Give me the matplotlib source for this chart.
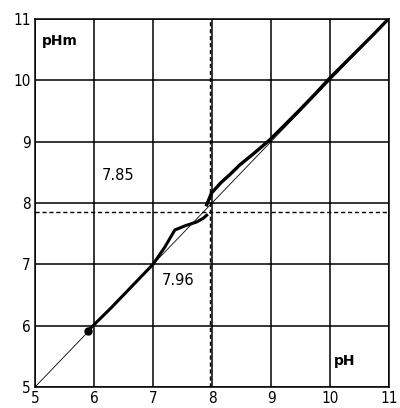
import matplotlib
matplotlib.use("Agg")
import matplotlib.pyplot as plt

# Data
ph_measured_x = [5.9, 6.3, 6.7, 7.0, 7.2, 7.37, 7.55, 7.74, 7.85, 7.91]
ph_measured_y = [5.92, 6.3, 6.7, 7.0, 7.28, 7.56, 7.63, 7.69, 7.75, 7.80]
ph_upper_x = [7.91, 7.99, 8.15, 8.3, 8.47, 8.7, 8.98, 9.2, 9.49, 9.75, 10.0, 10.25, 10.5, 10.75, 10.96]
ph_upper_y = [7.97, 8.16, 8.33, 8.46, 8.62, 8.8, 9.03, 9.24, 9.52, 9.78, 10.04, 10.28, 10.52, 10.76, 10.97]
ideal = [5, 11]
ph_cross = 7.96
phm_cross = 7.85
ticks = [5, 6, 7, 8, 9, 10, 11]

fig = plt.figure(figsize=(4.0, 4.08), dpi=100)
ax = fig.add_axes([0.0875, 0.0515, 0.885, 0.902])
ax.set_xlim(5, 11)
ax.set_ylim(5, 11)
ax.set_xticks(ticks)
ax.set_yticks(ticks)
ax.grid(True, color="black", linewidth=1.1)
ax.set_axisbelow(True)
for s in ax.spines.values():
    s.set_linewidth(1.1)
tickfont = dict(family="DejaVu Sans", stretch="condensed", size=11)
ax.set_xticklabels([str(t) for t in ticks], **tickfont)
ax.set_yticklabels([str(t) for t in ticks], **tickfont)
ax.tick_params(length=0, pad=3)

ax.plot(ideal, ideal, color="black", linewidth=0.6)
ax.plot(ph_measured_x, ph_measured_y, color="black", linewidth=2.2)
ax.plot(ph_upper_x, ph_upper_y, color="black", linewidth=2.4)
ax.plot([ph_measured_x[0]], [ph_measured_y[0]], "o", color="black", markersize=5)
ax.axvline(ph_cross, color="black", linestyle=(0, (3, 2)), linewidth=1.0)
ax.axhline(phm_cross, color="black", linestyle=(0, (3, 2)), linewidth=1.0)

ax.text(5.42, 10.64, "pHm", fontsize=10, fontweight="bold", ha="center", va="center")
ax.text(10.25, 5.42, "pH", fontsize=10, fontweight="bold", ha="center", va="center")
ax.text(6.41, 8.44, "7.85", fontsize=10.5, ha="center", va="center")
ax.text(7.42, 6.74, "7.96", fontsize=10.5, ha="center", va="center")

fig.savefig("out.png", dpi=100)
